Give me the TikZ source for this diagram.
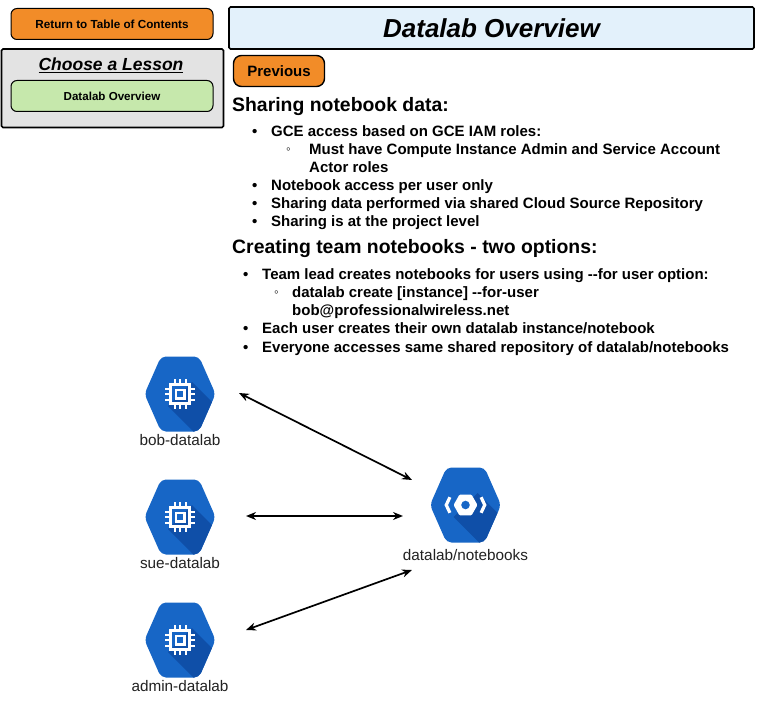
\documentclass[tikz,border=0pt]{standalone}
\usepackage{fontspec}
\setmainfont{Liberation Sans}
\usetikzlibrary{arrows.meta}
\definecolor{btnorange}{HTML}{F28C28}
\definecolor{hexblue}{HTML}{1766C6}
\definecolor{hexdark}{HTML}{0F4FA8}
\definecolor{titlebg}{HTML}{E3F1FB}
\definecolor{panelbg}{HTML}{E3E3E3}
\definecolor{lessongreen}{HTML}{C6E8AC}
\definecolor{labelgrey}{HTML}{222222}
\tikzset{
  btn/.style={draw=black,line width=1pt,rounded corners=6pt,align=center,inner sep=0pt},
  txt/.style={anchor=base west,inner sep=0pt,font=\fontsize{15}{15}\selectfont\bfseries},
  head/.style={anchor=base west,inner sep=0pt,font=\fontsize{19.4}{19}\selectfont\bfseries},
  iconlabel/.style={anchor=base,inner sep=0pt,text=labelgrey,font=\fontsize{15.3}{15}\selectfont},
  link/.style={{Stealth[length=10pt,width=8pt]}-{Stealth[length=10pt,width=8pt]},line width=1.7pt,black},
  pics/hexbase/.style={code={
    \begin{scope}
      \clip[rounded corners=5pt] (-35.5,0)--(-19,-37.5)--(19,-37.5)--(35.5,0)--(19,37.5)--(-19,37.5)--cycle;
      \fill[hexblue] (-40,-40) rectangle (40,40);
      \fill[hexdark] (-12,12)--(12,-12)--(40,16)--(40,40)--(16,40)--cycle;
    \end{scope}
  }},
  pics/chipicon/.style={code={
    \pic at (0,0) {hexbase};
    \draw[white,line width=3pt] (-9.5,-9.5) rectangle (9.5,9.5);
    \fill[white] (-5.5,-5.5) rectangle (5.5,5.5);
    \fill[hexblue] (-2.8,-2.8) rectangle (2.8,2.8);
    \foreach \t in {-5.5,0,5.5}{
      \draw[white,line width=2pt] (\t,-15)--(\t,-9.5);
      \draw[white,line width=2pt] (\t,9.5)--(\t,15);
      \draw[white,line width=2pt] (-15,\t)--(-9.5,\t);
      \draw[white,line width=2pt] (9.5,\t)--(15,\t);
    }
  }},
  pics/repoicon/.style={code={
    \pic at (0,0) {hexbase};
    \draw[white,line width=3.2pt,line join=miter] (-15,-7.5)--(-18.5,0)--(-15,7.5);
    \draw[white,line width=3.2pt,line join=miter] (15,-7.5)--(18.5,0)--(15,7.5);
    \fill[white,rounded corners=1pt] (-11.5,0)--(-5.8,-10)--(5.8,-10)--(11.5,0)--(5.8,10)--(-5.8,10)--cycle;
    \fill[hexblue] (0,0) circle (4.1);
  }},
}
\begin{document}
\begin{tikzpicture}[x=1pt,y=-1pt]
\useasboundingbox (0,0) rectangle (761,706);
\fill[white] (0,0) rectangle (761,706);
% left column
\node[btn,fill=btnorange,minimum width=202pt,minimum height=31pt,font=\fontsize{11.7}{11}\selectfont\bfseries] (toc) at (112,24) {Return to Table of Contents};
\draw[black,line width=1.6pt,fill=panelbg,rounded corners=1.5pt] (1.5,49) rectangle (223.5,127.5);
\node[inner sep=0pt,font=\fontsize{17.5}{18}\selectfont\bfseries\itshape] (choose) at (111,65) {\underline{Choose a Lesson}};
\node[btn,fill=lessongreen,minimum width=202pt,minimum height=31pt,font=\fontsize{11.6}{11}\selectfont\bfseries] (lesson) at (112,96) {Datalab Overview};
% title
\node[draw=black,line width=1.6pt,fill=titlebg,rounded corners=1.5pt,minimum width=525pt,minimum height=42pt,inner sep=0pt,font=\fontsize{26}{26}\selectfont\bfseries\itshape] (title) at (491.5,28) {Datalab Overview};
\node[btn,line width=1.4pt,fill=btnorange,rounded corners=8pt,minimum width=91pt,minimum height=31pt,font=\fontsize{15}{15}\selectfont\bfseries] (prev) at (279,71) {Previous};
% text
\node[head] (h1) at (232,112) {Sharing notebook data:};
\node[txt] at (252,137) {•};
\node[txt] (a1) at (271,137) {GCE access based on GCE IAM roles:};
\node[txt] at (286,154) {\fontsize{13}{13}\selectfont◦};
\node[txt] (a2) at (309,155) {Must have Compute Instance Admin and Service Account};
\node[txt] (a3) at (309,172.5) {Actor roles};
\node[txt] at (252,190.5) {•};
\node[txt] (a4) at (271,190.5) {Notebook access per user only};
\node[txt] at (252,208.5) {•};
\node[txt] (a5) at (271,208.5) {Sharing data performed via shared Cloud Source Repository};
\node[txt] at (252,226.5) {•};
\node[txt] (a6) at (271,226.5) {Sharing is at the project level};
\node[head] (h2) at (232,254) {Creating team notebooks - two options:};
\node[txt] at (243,279) {•};
\node[txt] (b1) at (262,279) {Team lead creates notebooks for users using -{}-for user option:};
\node[txt] at (274,296) {\fontsize{13}{13}\selectfont◦};
\node[txt] (b2) at (292,297) {datalab create [instance] -{}-for-user};
\node[txt] (b3) at (292,315) {bob@professionalwireless.net};
\node[txt] at (243,333) {•};
\node[txt] (b4) at (262,333) {Each user creates their own datalab instance/notebook};
\node[txt] at (243,352) {•};
\node[txt] (b5) at (262,352) {Everyone accesses same shared repository of datalab/notebooks};
% icons
\pic at (180,394) {chipicon};
\pic at (180,517) {chipicon};
\pic at (180,640) {chipicon};
\begin{scope}[shift={(465.5,505)}]
\pic[scale=1.04] at (0,0) {repoicon};
\end{scope}
\node[iconlabel] (bob) at (180,445) {bob-datalab};
\node[iconlabel] (sue) at (180,568) {sue-datalab};
\node[iconlabel] (admin) at (180,691) {admin-datalab};
\node[iconlabel] (repo) at (465.5,560) {datalab/notebooks};
% connector ends
\coordinate (bobend) at (239,393);
\coordinate (repoA) at (412,480);
\coordinate (sueend) at (246,516);
\coordinate (repoB) at (403,516);
\coordinate (adminend) at (246,630);
\coordinate (repoC) at (412,570);
\draw[link] (bobend)--(repoA);
\draw[link] (sueend)--(repoB);
\draw[link] (adminend)--(repoC);
\end{tikzpicture}
\end{document}
